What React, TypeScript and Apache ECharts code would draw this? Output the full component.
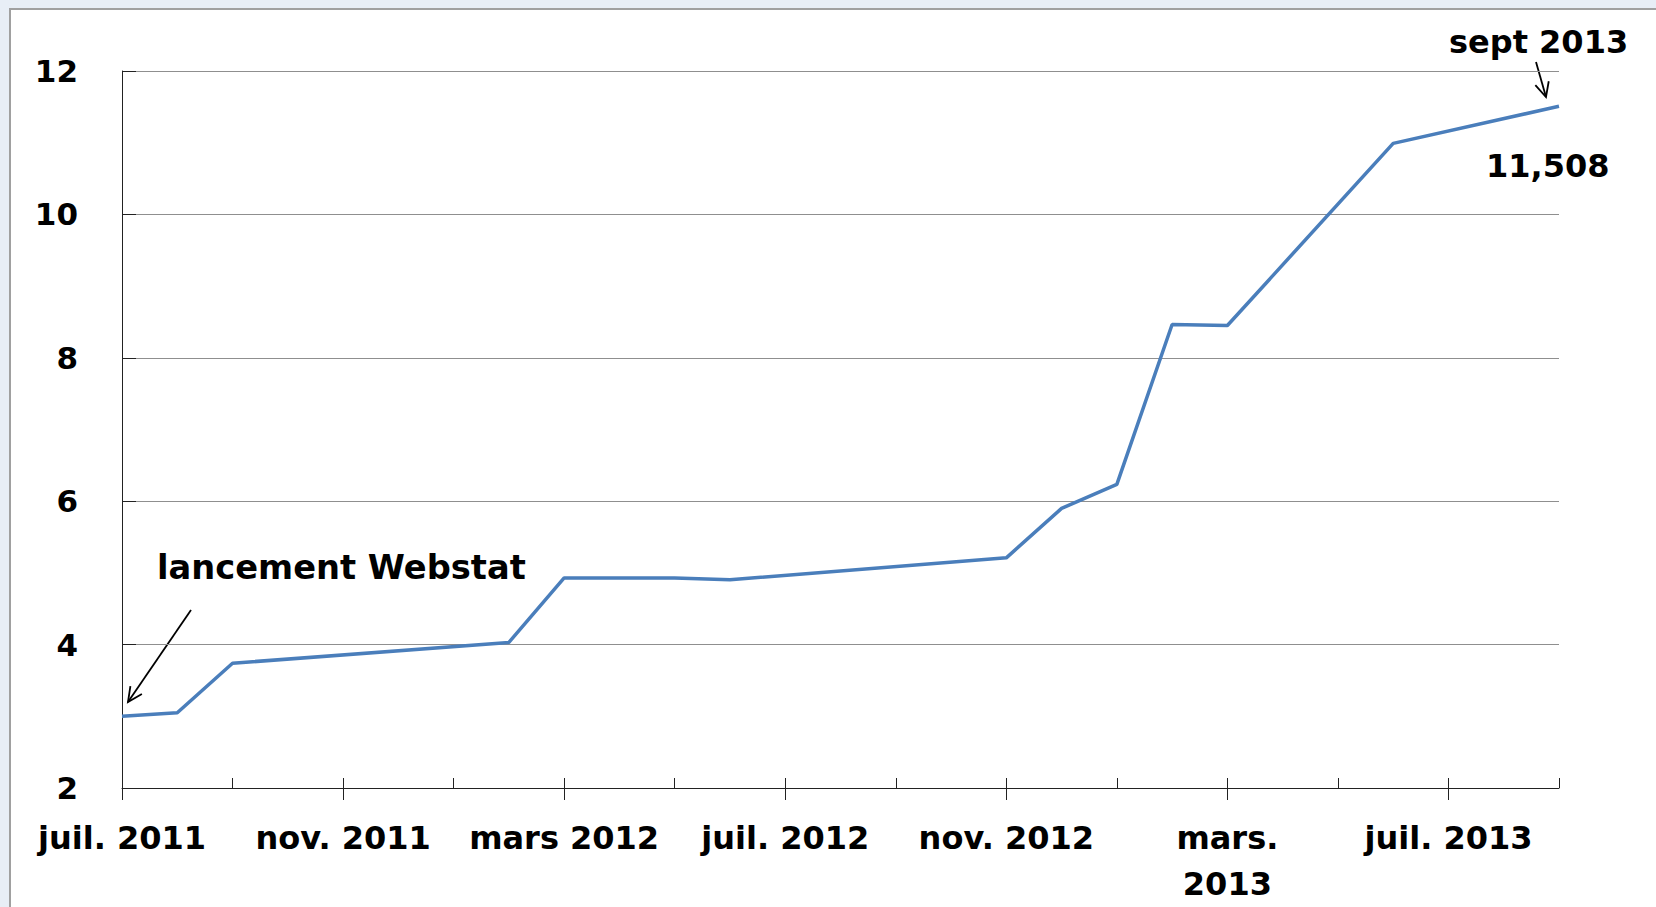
import React, { useEffect, useRef } from "react";
import * as echarts from "echarts";

// ---- data ----
const labelMonths = [0, 4, 8, 12, 16, 20, 24];
const monthLabels = ["juil. 2011", "nov. 2011", "mars 2012", "juil. 2012", "nov. 2012", "mars.\n2013", "juil. 2013"];
const pointMonths = [0, 1, 2, 7, 8, 10, 11, 16, 17, 18, 19, 20, 23, 26];
const values = [3.0, 3.05, 3.74, 4.03, 4.93, 4.93, 4.905, 5.21, 5.9, 6.235, 8.465, 8.45, 10.99, 11.508];
const yMin = 2;
const yMax = 12;
const yStep = 2;
const monthMax = 26;

const FONT = "DejaVu Sans";

function arrow(x1: number, y1: number, x2: number, y2: number, len = 16, ang = 0.45) {
  const a = Math.atan2(y2 - y1, x2 - x1);
  const p1 = [x2 - len * Math.cos(a - ang), y2 - len * Math.sin(a - ang)];
  const p2 = [x2 - len * Math.cos(a + ang), y2 - len * Math.sin(a + ang)];
  return [
    { type: "line", shape: { x1, y1, x2, y2 }, style: { stroke: "#000", lineWidth: 1.8 } },
    { type: "polyline", shape: { points: [p1, [x2, y2], p2] }, style: { stroke: "#000", lineWidth: 1.8, fill: null } },
  ];
}

export default function App() {
  const ref = useRef<HTMLDivElement>(null);
  useEffect(() => {
    if (!ref.current) return;
    const chart = echarts.init(ref.current, null, { renderer: "svg" });
    const labelText = (v: number) => {
      const i = labelMonths.indexOf(v);
      return i >= 0 ? monthLabels[i] : "";
    };
    chart.setOption({
      animation: false,
      backgroundColor: "#e8eef6",
      grid: { left: 122, top: 71, right: 97, bottom: 115 },
      xAxis: [
        {
          type: "value",
          min: 0,
          max: monthMax,
          position: "bottom",
          axisLine: { show: true, lineStyle: { color: "#222", width: 1 } },
          axisTick: { show: true, inside: false, length: 12, customValues: labelMonths, lineStyle: { color: "#222" } },
          axisLabel: {
            customValues: labelMonths,
            formatter: (v: number) => labelText(v),
            margin: 27,
            color: "#000",
            fontFamily: FONT,
            fontWeight: "bold",
            fontSize: 32,
            lineHeight: 46,
          },
          splitLine: { show: false },
        },
        {
          type: "value",
          min: 0,
          max: monthMax,
          interval: 2,
          position: "bottom",
          axisLine: { show: false },
          axisTick: { show: true, inside: true, length: 10, lineStyle: { color: "#222" } },
          axisLabel: { show: false },
          splitLine: { show: false },
        },
      ],
      yAxis: {
        type: "value",
        min: yMin,
        max: yMax,
        interval: yStep,
        axisLine: { show: true, lineStyle: { color: "#222", width: 1 } },
        axisTick: { show: true, inside: true, length: 14, lineStyle: { color: "#222" } },
        axisLabel: { margin: 44, color: "#000", fontFamily: FONT, fontWeight: "bold", fontSize: 31 },
        splitLine: { show: true, lineStyle: { color: "#8f8f8f", width: 1 } },
      },
      series: [
        {
          type: "line",
          xAxisIndex: 0,
          data: pointMonths.map((m, i) => [m, values[i]]),
          symbol: "none",
          lineStyle: { color: "#4a7ebb", width: 3.5 },
        },
      ],
      graphic: [
        {
          type: "rect",
          z: -10,
          shape: { x: 10, y: 9, width: 1700, height: 1000 },
          style: { fill: "#ffffff", stroke: "#a0a0a0", lineWidth: 2 },
        },
        {
          type: "text",
          x: 157,
          y: 567,
          style: { text: "lancement Webstat", fontFamily: FONT, fontWeight: "bold", fontSize: 33.7, fill: "#000", verticalAlign: "middle", align: "left" },
        },
        {
          type: "text",
          x: 1449,
          y: 42,
          style: { text: "sept 2013", fontFamily: FONT, fontWeight: "bold", fontSize: 32, fill: "#000", verticalAlign: "middle", align: "left" },
        },
        {
          type: "text",
          x: 1486,
          y: 166,
          style: { text: "11,508", fontFamily: FONT, fontWeight: "bold", fontSize: 32, fill: "#000", verticalAlign: "middle", align: "left" },
        },
        ...arrow(191, 610, 128, 702),
        ...arrow(1536, 62, 1546, 97),
      ],
    });
    return () => chart.dispose();
  }, []);
  return (
    <div ref={ref} style={{ position: "fixed", left: 0, top: 0, width: 1656, height: 907 }} />
  );
}
